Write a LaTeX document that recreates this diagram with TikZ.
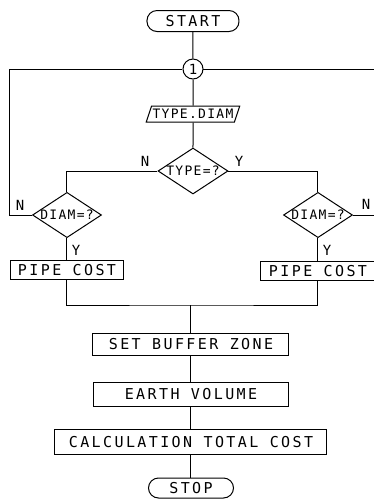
\documentclass[tikz,border=0pt]{standalone}
\usepackage{fontspec}
\usepackage{tikz}
\usetikzlibrary{positioning, shapes.geometric, calc}
\newfontfamily\plotbig[LetterSpace=16]{DejaVu Sans Mono}
\newfontfamily\plotsmall[LetterSpace=10]{DejaVu Sans Mono}

\begin{document}
\begin{tikzpicture}[
    x=0.5pt, y=-0.5pt,
    terminal/.style = {rectangle, rounded corners=5pt, draw, line width=0.5pt,
                       minimum width=46pt, minimum height=10.5pt, inner sep=0pt,
                       font=\plotbig\fontsize{7.5}{8}\selectfont},
    joint/.style    = {circle, draw, line width=0.5pt, minimum size=10pt, inner sep=0pt,
                       font=\plotbig\fontsize{7}{8}\selectfont},
    io/.style       = {trapezium, trapezium left angle=65, trapezium right angle=115,
                       trapezium stretches body, draw, line width=0.5pt,
                       minimum width=46pt, minimum height=8pt, inner sep=0.5pt,
                       font=\plotsmall\fontsize{6.5}{7}\selectfont},
    decision/.style = {diamond, draw, line width=0.5pt, aspect=1.5, inner sep=0pt,
                       minimum width=34.5pt, minimum height=22pt,
                       font=\plotsmall\fontsize{6.5}{7}\selectfont},
    proc/.style     = {rectangle, draw, line width=0.5pt, inner sep=0pt,
                       font=\plotbig\fontsize{7.5}{8}\selectfont},
    lbl/.style      = {inner sep=0pt, font=\plotsmall\fontsize{7}{8}\selectfont},
    link/.style     = {line width=0.5pt},
]
\useasboundingbox (0,0) rectangle (374,500);

% Main column
\node[terminal] (start) at (193,21) {START};
\node[joint] (conn) at (193,69) {1};
\node[io] (input) at (193,114) {TYPE.DIAM};
\node[decision, minimum width=35pt, minimum height=23pt] (type) at (193,171) {TYPE=?};

% Branches
\node[decision] (diamL) at (67,215) {DIAM=?};
\node[decision] (diamR) at (318,215) {DIAM=?};
\node[proc, minimum width=56.5pt, minimum height=9.5pt] (pipeL) at (67,270) {PIPE COST};
\node[proc, minimum width=57pt, minimum height=9.5pt] (pipeR) at (318,271) {PIPE COST};

% Lower column
\node[proc, minimum width=98pt, minimum height=11pt] (buffer) at (191,344) {SET BUFFER ZONE};
\node[proc, minimum width=97.5pt, minimum height=12pt] (earth) at (191,394) {EARTH VOLUME};
\node[proc, minimum width=136pt, minimum height=12.5pt] (calc) at (191,442) {CALCULATION TOTAL COST};
\node[terminal, minimum width=42.5pt, minimum height=10pt] (stop) at (191,488) {STOP};

% Branch labels
\node[lbl] (nT) at (145,161) {N};
\node[lbl] (yT) at (239,161) {Y};
\node[lbl] (nL) at (20,205) {N};
\node[lbl] (yL) at (76,250) {Y};
\node[lbl] (nR) at (366,204) {N};
\node[lbl] (yR) at (327,250) {Y};

% Loose ends of the loop
\coordinate (loopL) at (10,69);
\coordinate (loopR) at (374,69);
\coordinate (exitR) at (374,215);
\coordinate (merge) at (191,305);

% Connectors
\draw[link] (start) -- (conn) -- (input) -- (type);
\draw[link] (loopL) -- (conn) -- (loopR);
\draw[link] (diamL.west) -| (loopL);
\draw[link] (type.west) -| (diamL.north);
\draw[link] (type.east) -| (diamR.north);
\draw[link] (diamR.east) -- (exitR);
\draw[link] (diamL) -- (pipeL);
\draw[link] (diamR) -- (pipeR);
\draw[link] (pipeL.south) |- (merge) -| (pipeR.south);
\draw[link] (merge) -- (buffer);
\draw[link] (buffer) -- (earth) -- (calc) -- (stop);

\end{tikzpicture}
\end{document}
